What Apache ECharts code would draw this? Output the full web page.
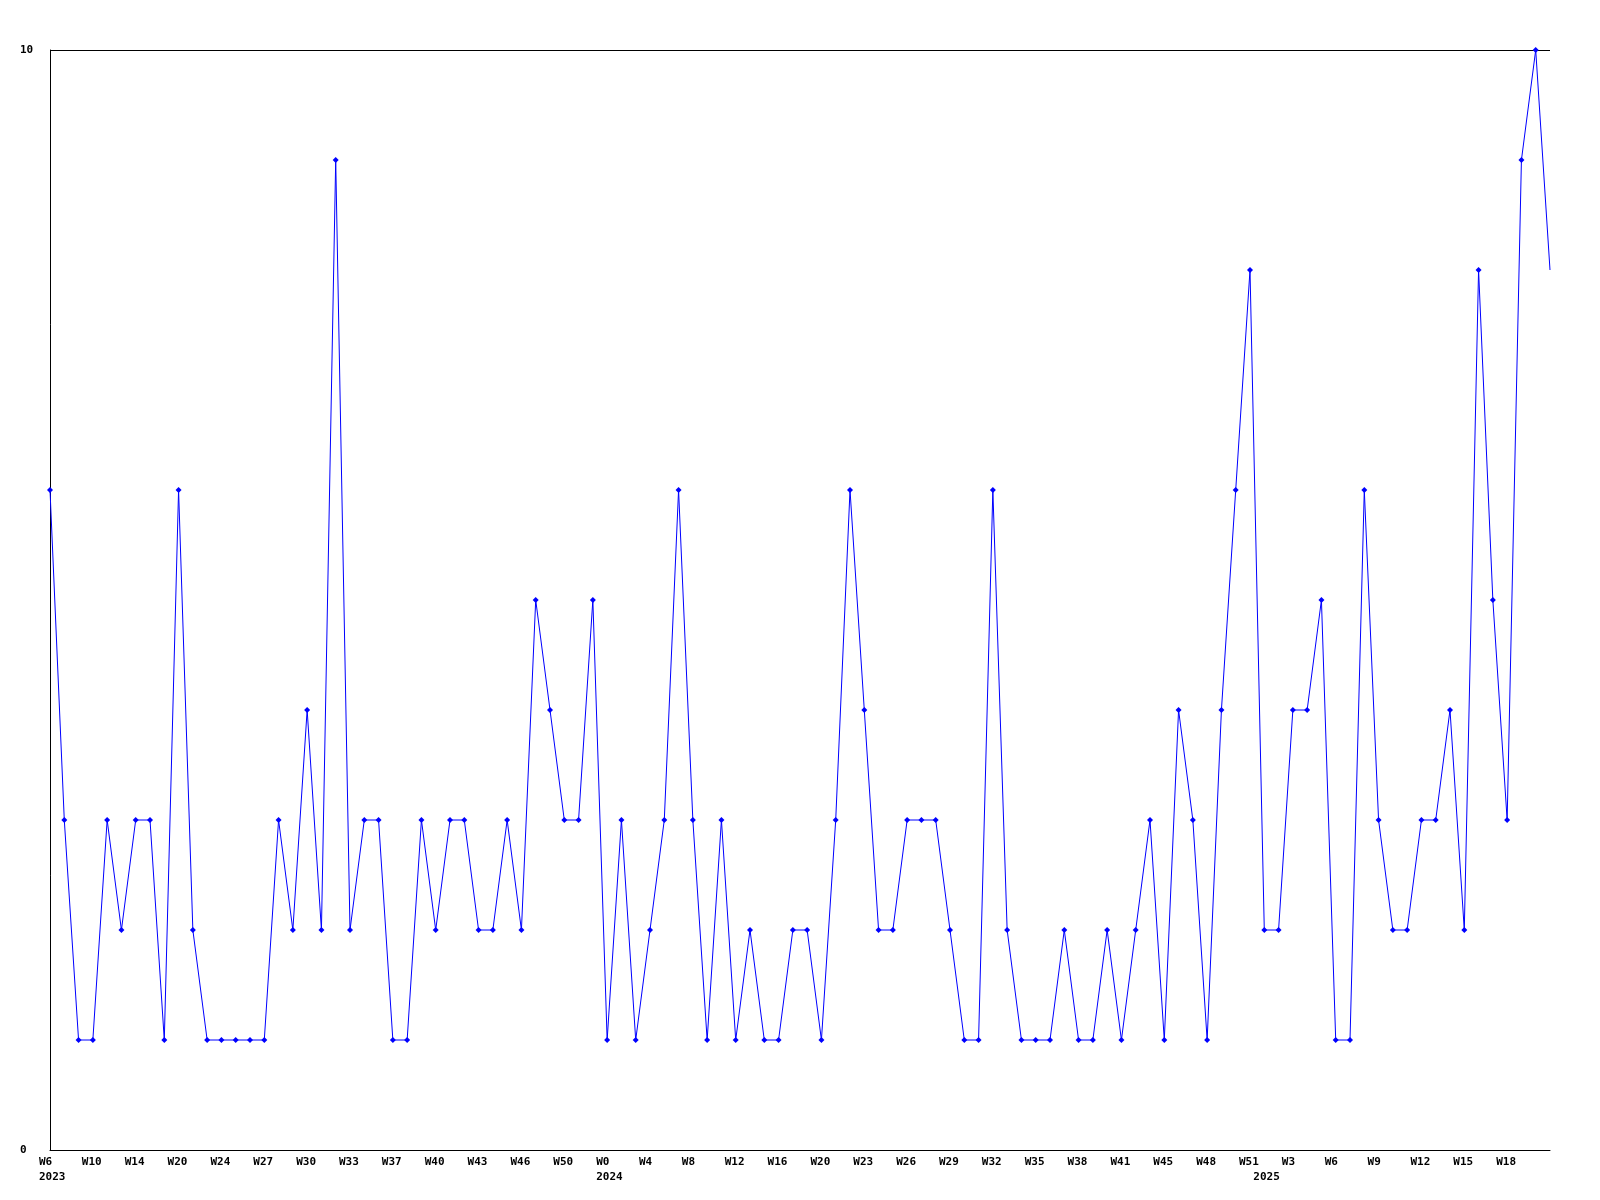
<!DOCTYPE html>
<html>
<head>
<meta charset="utf-8">
<script src="https://cdn.jsdelivr.net/npm/echarts@6/dist/echarts.min.js"></script>
<style>
html,body{margin:0;padding:0;background:#fff;}
#chart{width:1600px;height:1200px;}
</style>
</head>
<body>
<div id="chart"></div>
<script>
// Week labels (%W week numbers) for each data point
const weeks = [
  'W6','W7','W9','W10','W11','W13','W14','W16','W18','W20',
  'W21','W23','W24','W25','W26','W27','W28','W29','W30','W31',
  'W32','W33','W35','W36','W37','W38','W39','W40','W41','W42',
  'W43','W44','W45','W46','W48','W49','W50','W51','W52',
  'W0','W1','W3','W4','W5','W7','W8','W9','W10','W12',
  'W13','W15','W16','W17','W19','W20','W21','W22','W23','W24',
  'W25','W26','W27','W28','W29','W30','W31','W32','W33','W34',
  'W35','W36','W37','W38','W39','W40','W41','W42','W44','W45',
  'W46','W47','W48','W49','W50','W51',
  'W1','W2','W3','W4','W5','W6','W7','W8','W9','W10',
  'W11','W12','W13','W14','W15','W16','W17','W18','W19','W20','W21'
];
const years = [
  2023,2023,2023,2023,2023,2023,2023,2023,2023,2023,
  2023,2023,2023,2023,2023,2023,2023,2023,2023,2023,
  2023,2023,2023,2023,2023,2023,2023,2023,2023,2023,
  2023,2023,2023,2023,2023,2023,2023,2023,2023,
  2024,2024,2024,2024,2024,2024,2024,2024,2024,2024,
  2024,2024,2024,2024,2024,2024,2024,2024,2024,2024,
  2024,2024,2024,2024,2024,2024,2024,2024,2024,2024,
  2024,2024,2024,2024,2024,2024,2024,2024,2024,2024,
  2024,2024,2024,2024,2024,2024,
  2025,2025,2025,2025,2025,2025,2025,2025,2025,2025,
  2025,2025,2025,2025,2025,2025,2025,2025,2025,2025,2025
];
const values = [
  6,3,1,1,3,2,3,3,1,6,
  2,1,1,1,1,1,3,2,4,2,
  9,2,3,3,1,1,3,2,3,3,
  2,2,3,2,5,4,3,3,5,
  1,3,1,2,3,6,3,1,3,1,
  2,1,1,2,2,1,3,6,4,2,
  2,3,3,3,2,1,1,6,2,1,
  1,1,2,1,1,2,1,2,3,1,
  4,3,1,4,6,8,
  2,2,4,4,5,1,1,6,3,2,
  2,3,3,4,2,8,5,3,9,10,8
];
const yTicks = [0, 10];

const categories = weeks.map((w, i) => w + ' ' + years[i]);
const isFirstOfYear = i => i === 0 || years[i] !== years[i - 1];
const showWeek = i => i % 3 === 0 && i < weeks.length - 1;

const FONT = 'DejaVu Sans Mono';
const chart = echarts.init(document.getElementById('chart'), null, {renderer: 'canvas'});
chart.setOption({
  animation: false,
  backgroundColor: '#ffffff',
  grid: {left: 50, right: 50, top: 50, bottom: 50, containLabel: false},
  xAxis: {
    type: 'category',
    data: categories,
    boundaryGap: false,
    axisLine: {show: true, lineStyle: {color: '#000', width: 1}},
    axisTick: {show: false},
    splitLine: {show: false},
    axisLabel: {
      interval: (i) => showWeek(i) || isFirstOfYear(i),
      margin: 5,
      align: 'center',
      formatter: (val, i) => {
        const wk = showWeek(i) ? weeks[i] : ' ';
        let s = '{a|' + wk + '}';
        if (isFirstOfYear(i)) s += '\n{a|' + years[i] + '}';
        return s;
      },
      rich: {
        a: {width: 22, align: 'left', fontFamily: FONT, fontWeight: 'bold', fontSize: 11, lineHeight: 15, color: '#000'}
      }
    }
  },
  yAxis: {
    type: 'value',
    min: yTicks[0],
    max: yTicks[1],
    interval: 10,
    axisLine: {show: true, lineStyle: {color: '#000', width: 1}},
    axisTick: {show: false},
    splitLine: {show: true, lineStyle: {color: '#000', width: 1}},
    axisLabel: {
      margin: 30,
      align: 'left',
      fontFamily: FONT,
      fontWeight: 'bold',
      fontSize: 11,
      color: '#000'
    }
  },
  series: [{
    type: 'line',
    data: values.map((v, i) => i === values.length - 1 ? {value: v, symbol: 'none'} : v),
    showAllSymbol: true,
    symbol: 'diamond',
    symbolSize: 6,
    lineStyle: {color: '#0000ff', width: 1},
    itemStyle: {color: '#0000ff'},
    clip: false
  }]
});
</script>
</body>
</html>
